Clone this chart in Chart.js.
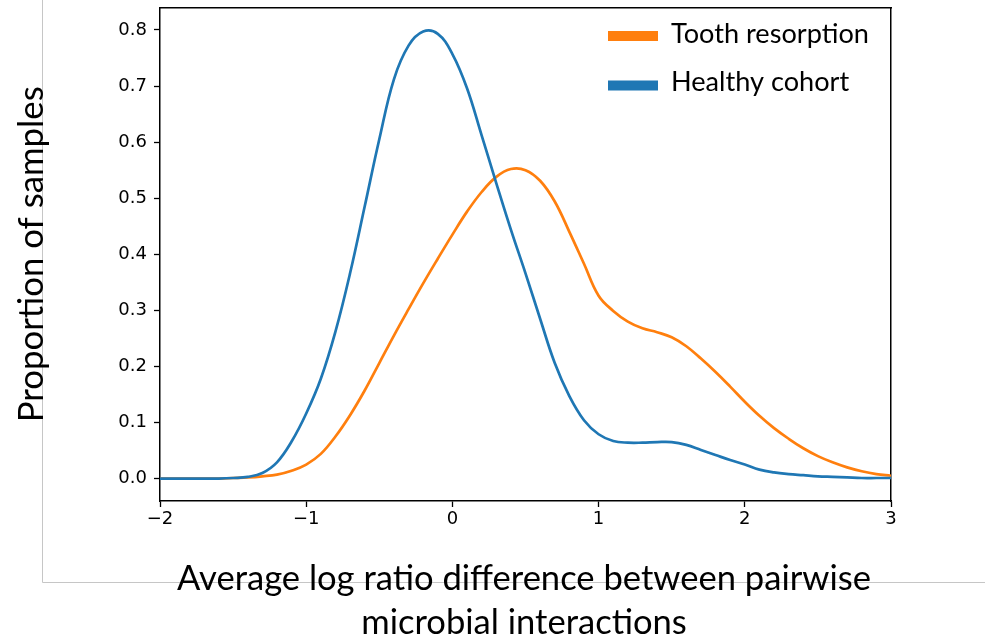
<!DOCTYPE html>
<html>
<head>
<meta charset="utf-8">
<script src="https://cdn.jsdelivr.net/npm/chart.js@4.4.0/dist/chart.umd.min.js"></script>
<style>
html,body{margin:0;padding:0;background:#fff;}
#wrap{position:relative;width:992px;height:644px;overflow:hidden;}
canvas{display:block;}
</style>
</head>
<body>
<div id="wrap"><canvas id="c" width="992" height="644"></canvas></div>
<script>
// ---- data ----
const xValues = [
  -2.0,-1.9,-1.8,-1.7,-1.6,-1.5,-1.4,-1.3,-1.2,-1.1,
  -1.0,-0.9,-0.8,-0.7,-0.6,-0.5,-0.4,-0.3,-0.2,-0.1,
   0.0, 0.1, 0.2, 0.3, 0.4, 0.5, 0.6, 0.7, 0.8, 0.9,
   1.0, 1.1, 1.2, 1.3, 1.4, 1.5, 1.6, 1.7, 1.8, 1.9,
   2.0, 2.1, 2.2, 2.3, 2.4, 2.5, 2.6, 2.7, 2.8, 2.9, 3.0
];
const toothResorption = [
  0.000,0.000,0.000,0.000,0.000,0.001,0.002,0.004,0.007,0.014,
  0.025,0.044,0.075,0.113,0.157,0.206,0.255,0.302,0.348,0.392,
  0.435,0.476,0.511,0.538,0.552,0.550,0.531,0.494,0.440,0.383,
  0.326,0.299,0.280,0.268,0.261,0.252,0.236,0.214,0.190,0.164,
  0.137,0.112,0.090,0.071,0.054,0.040,0.029,0.020,0.013,0.008,0.005
];
const healthyCohort = [
  0.000,0.000,0.000,0.000,0.000,0.001,0.003,0.010,0.029,0.066,
  0.116,0.178,0.262,0.366,0.485,0.605,0.712,0.772,0.797,0.793,
  0.757,0.696,0.612,0.527,0.444,0.366,0.285,0.206,0.147,0.104,
  0.079,0.067,0.064,0.064,0.065,0.065,0.060,0.051,0.042,0.033,
  0.025,0.016,0.011,0.008,0.006,0.004,0.003,0.002,0.001,0.001,0.001
];
const seriesNames = ['Tooth resorption', 'Healthy cohort'];
const seriesColors = ['#ff7f0e', '#1f77b4'];
const xTickValues = [-2, -1, 0, 1, 2, 3];
const yTickValues = [0, 0.1, 0.2, 0.3, 0.4, 0.5, 0.6, 0.7, 0.8];
const xTitleLines = ['Average log ratio difference between pairwise', 'microbial interactions'];
const yTitle = 'Proportion of samples';

// ---- helpers ----
const TXT_FONT = 'Lato, "Open Sans", sans-serif';
const TICK_FONT = '"DejaVu Sans", sans-serif';
function fitSize(ctx, text, family, target) {
  ctx.font = '100px ' + family;
  return 100 * target / ctx.measureText(text).width;
}
function fmtX(v) { return v < 0 ? '\u2212' + Math.abs(v) : String(v); }

const decoPlugin = {
  id: 'deco',
  beforeDraw(chart) {
    const c = chart.ctx;
    c.save();
    c.fillStyle = '#fff';
    c.fillRect(0, 0, chart.width, chart.height);
    c.strokeStyle = '#c6c6c6';
    c.lineWidth = 1;
    c.beginPath();
    c.moveTo(42.5, 0);
    c.lineTo(42.5, 582.5);
    c.lineTo(985, 582.5);
    c.stroke();
    c.restore();
  },
  afterDraw(chart) {
    const c = chart.ctx;
    const area = chart.chartArea;
    const cx = (area.left + area.right) / 2;
    const cy = (area.top + area.bottom) / 2;
    c.save();
    c.fillStyle = '#000';
    c.textBaseline = 'alphabetic';
    // x title
    const xs = fitSize(c, xTitleLines[0], TXT_FONT, 694);
    c.font = xs.toFixed(2) + 'px ' + TXT_FONT;
    c.textAlign = 'center';
    c.fillText(xTitleLines[0], cx - 1.5, 590);
    c.fillText(xTitleLines[1], cx - 1.5, 634);
    // y title
    const ys = fitSize(c, yTitle, TXT_FONT, 336);
    c.font = ys.toFixed(2) + 'px ' + TXT_FONT;
    c.translate(43, cy);
    c.rotate(-Math.PI / 2);
    c.fillText(yTitle, 0, 0);
    c.restore();
    // legend
    c.save();
    const ls = fitSize(c, seriesNames[0], TXT_FONT, 198);
    c.font = ls.toFixed(2) + 'px ' + TXT_FONT;
    c.textAlign = 'left';
    c.textBaseline = 'alphabetic';
    const rows = [{sy: 31, by: 43}, {sy: 80.5, by: 91}];
    seriesNames.forEach((name, i) => {
      c.fillStyle = seriesColors[i];
      c.fillRect(608, rows[i].sy, 50, 10);
      c.fillStyle = '#000';
      c.fillText(name, 671, rows[i].by);
    });
    c.restore();
  }
};

const axisGrid = { display: true, drawOnChartArea: false, drawTicks: true, tickLength: 6, tickColor: '#000', tickWidth: 1.3 };
const axisBorder = { display: true, color: '#000', width: 1.5 };

new Chart(document.getElementById('c'), {
  type: 'line',
  data: {
    datasets: [
      {
        label: seriesNames[0],
        data: xValues.map((x, i) => ({ x: x, y: toothResorption[i] })),
        borderColor: seriesColors[0],
        borderWidth: 2.7,
        pointRadius: 0,
        fill: false,
        tension: 0.4,
        order: 1
      },
      {
        label: seriesNames[1],
        data: xValues.map((x, i) => ({ x: x, y: healthyCohort[i] })),
        borderColor: seriesColors[1],
        borderWidth: 2.7,
        pointRadius: 0,
        fill: false,
        tension: 0.4,
        order: 0
      }
    ]
  },
  options: {
    responsive: false,
    animation: false,
    devicePixelRatio: 1,
    layout: { padding: { left: 0, top: 7.5, right: 101, bottom: 0 } },
    plugins: { legend: { display: false }, tooltip: { enabled: false }, title: { display: false } },
    scales: {
      x: {
        type: 'linear', position: 'bottom', min: -2, max: 3,
        grid: axisGrid, border: axisBorder,
        afterBuildTicks: s => { s.ticks = xTickValues.map(v => ({ value: v })); },
        afterFit: s => { s.height = 143; s.paddingLeft = 0; s.paddingRight = 0; },
        ticks: { color: '#000', font: { family: TICK_FONT, size: 18 }, padding: 2, maxRotation: 0, autoSkip: false, callback: v => fmtX(v) }
      },
      y: {
        type: 'linear', position: 'left', min: -0.04, max: 0.84,
        grid: axisGrid, border: axisBorder,
        afterBuildTicks: s => { s.ticks = yTickValues.map(v => ({ value: v })); },
        afterFit: s => { s.width = 160; s.paddingTop = 0; s.paddingBottom = 0; },
        ticks: { color: '#000', font: { family: TICK_FONT, size: 18 }, padding: 7, autoSkip: false, callback: v => v.toFixed(1) }
      },
      x2: {
        type: 'linear', position: 'top', min: -2, max: 3,
        grid: { display: false }, border: axisBorder,
        ticks: { display: false },
        afterFit: s => { s.height = 0; s.paddingLeft = 0; s.paddingRight = 0; }
      },
      y2: {
        type: 'linear', position: 'right', min: -0.04, max: 0.84,
        grid: { display: false }, border: axisBorder,
        ticks: { display: false },
        afterFit: s => { s.width = 0; s.paddingTop = 0; s.paddingBottom = 0; }
      }
    }
  },
  plugins: [decoPlugin]
});
</script>
</body>
</html>
